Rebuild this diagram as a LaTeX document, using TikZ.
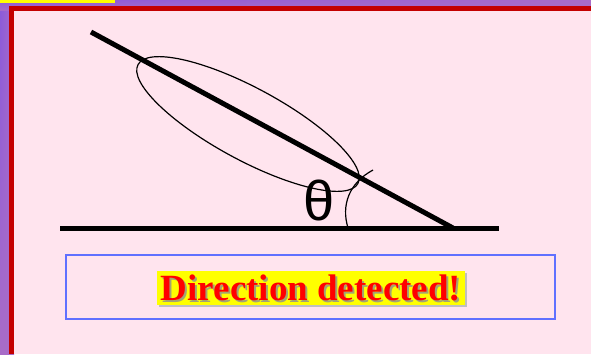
\documentclass[tikz,border=0pt]{standalone}
\usepackage{fontspec}
\setmainfont{Liberation Serif}
\newfontfamily\symfont{Liberation Sans}
\usepackage{tikz}
\usetikzlibrary{calc,shadings}
\definecolor{plum}{HTML}{A86CC8}
\definecolor{plumb}{HTML}{8A5ADB}
\definecolor{frame}{HTML}{C40000}
\definecolor{blush}{HTML}{FFE4EE}
\definecolor{lemon}{HTML}{FFFF00}
\definecolor{cblue}{HTML}{6070FF}
\definecolor{cred}{HTML}{FF0000}
\definecolor{shadow}{HTML}{8C8C50}
\tikzset{
  every picture/.style={line width=1pt},
  thick line/.style={line width=5pt,draw=black},
  thin line/.style={line width=1.2pt,draw=black},
  banner/.style={fill=lemon,inner xsep=3pt,inner ysep=3pt,font=\bfseries\fontsize{37}{37}\selectfont,text=cred},
}
\begin{document}
\begin{tikzpicture}[x=1pt,y=-1pt]
  \useasboundingbox (0,0) rectangle (591,354);
  % backdrop and frame
  \shade[upper left=plumb,upper right=plum,lower left=plum,lower right=plum] (0,0) rectangle (14,354);
  \shade[upper left=plumb,upper right=plum,lower left=plum,lower right=plum] (0,0) rectangle (591,10.5);
  \fill[lemon] (0,0) rectangle (115,3);
  \fill[frame] (9,6) rectangle (14,354);
  \fill[frame] (9,6) rectangle (591,10.5);
  \fill[blush] (14,10.5) rectangle (591,354);
  % the two lines and the ellipse
  \draw[thick line] (60,228) -- (499,228);
  \draw[thick line] (91,32) -- (453,228);
  \draw[thin line,rotate around={-28.4:(248,124)}] (248,124) ellipse (125 and 36);
  \draw[thin line] (348,228) .. controls (341,205) and (349,183) .. (373,170);
  \node[font=\symfont\fontsize{56}{56}\selectfont] (theta) at (319,200) {θ};
  % message box
  \node[draw=cblue,line width=1.4pt,minimum width=489pt,minimum height=64pt] (msgbox) at (310.5,287) {};
  \node[banner] (msg) at (311,288) {\phantom{Direction detected!}};
  \fill[black!25] ($(msg.south west)+(2,2)$) rectangle ($(msg.north east)+(2,2)$);
  \fill[lemon] (msg.south west) rectangle (msg.north east);
  \node[banner,fill=none,text=shadow!80] at (313,290) {Direction detected!};
  \node[banner,fill=none] (msgtext) at (311,288) {Direction detected!};
\end{tikzpicture}
\end{document}
